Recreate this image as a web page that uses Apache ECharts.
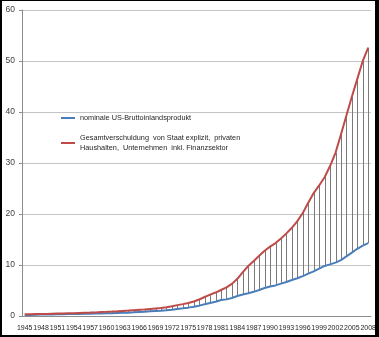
<!DOCTYPE html>
<html>
<head>
<meta charset="utf-8">
<script src="https://cdn.jsdelivr.net/npm/echarts@6/dist/echarts.min.js"></script>
<style>
  html, body { margin: 0; padding: 0; background: #fff; }
  #frame {
    position: relative; width: 379px; height: 337px; box-sizing: border-box;
    border-style: solid; border-color: #000; border-width: 1px 4px 2px 2px;
    overflow: hidden;
  }
  #chart { position: absolute; left: -2px; top: -1px; width: 379px; height: 337px; }
</style>
</head>
<body>
<div id="frame"><div id="chart"></div></div>
<script>
// Jahre 1945 bis 2008
const years = [];
for (let y = 1945; y <= 2008; y++) years.push(String(y));

// Nominales US-BIP (Billionen US-Dollar)
const gdp = [
  0.22, 0.22, 0.24, 0.27, 0.27, 0.29, 0.34, 0.36, 0.38, 0.38,
  0.41, 0.44, 0.46, 0.47, 0.51, 0.53, 0.54, 0.59, 0.62, 0.66,
  0.72, 0.79, 0.83, 0.91, 0.98, 1.04, 1.13, 1.24, 1.38, 1.50,
  1.64, 1.82, 2.03, 2.29, 2.56, 2.79, 3.13, 3.26, 3.54, 3.93,
  4.22, 4.46, 4.74, 5.10, 5.48, 5.80, 6.00, 6.34, 6.66, 7.07,
  7.40, 7.82, 8.30, 8.75, 9.27, 9.82, 10.13, 10.47, 10.96, 11.69,
  12.42, 13.18, 13.81, 14.29
];

// Gesamtverschuldung (Billionen US-Dollar)
const debt = [
  0.35, 0.36, 0.38, 0.39, 0.40, 0.44, 0.47, 0.50, 0.53, 0.56,
  0.61, 0.64, 0.67, 0.71, 0.77, 0.81, 0.86, 0.92, 0.99, 1.06,
  1.14, 1.21, 1.28, 1.38, 1.48, 1.58, 1.73, 1.92, 2.13, 2.33,
  2.55, 2.84, 3.24, 3.72, 4.18, 4.60, 5.10, 5.60, 6.30, 7.30,
  8.60, 9.80, 10.80, 11.80, 12.80, 13.60, 14.30, 15.20, 16.20, 17.30,
  18.60, 20.20, 22.20, 24.10, 25.60, 27.20, 29.40, 32.00, 35.60, 39.30,
  43.00, 46.50, 50.00, 52.60
];

const yTicks = [0, 10, 20, 30, 40, 50, 60];

const nameGdp = 'nominale US-Bruttoinlandsprodukt';
const nameDebt = 'Gesamtverschuldung  von Staat explizit,  privaten\nHaushalten,  Unternehmen  inkl. Finanzsektor';

const font = '"Liberation Sans", Arial, sans-serif';
const chart = echarts.init(document.getElementById('chart'));

chart.setOption({
  animation: false,
  grid: { left: 22, right: 8, top: 10, bottom: 21, containLabel: false },
  legend: {
    orient: 'vertical',
    left: 61, top: 113, padding: 0,
    icon: 'rect', itemWidth: 14, itemHeight: 2, itemGap: 5,
    textStyle: { fontFamily: font, fontSize: 7.3, color: '#262626', lineHeight: 10 },
    data: [
      { name: nameGdp },
      { name: nameDebt, textStyle: { padding: [10, 0, 0, 0] } }
    ]
  },
  xAxis: {
    type: 'category',
    data: years,
    boundaryGap: true,
    axisLine: { lineStyle: { color: '#8c8c8c', width: 1 } },
    axisTick: { show: false },
    axisLabel: {
      interval: 2, margin: 9, fontFamily: font, fontSize: 7, color: '#262626',
      showMinLabel: true, showMaxLabel: true, hideOverlap: false
    },
    splitLine: { show: false }
  },
  yAxis: {
    type: 'value',
    min: yTicks[0], max: yTicks[yTicks.length - 1], interval: 10,
    axisLine: { show: true, lineStyle: { color: '#8c8c8c', width: 1 } },
    axisTick: { show: true, length: 3, lineStyle: { color: '#8c8c8c' } },
    axisLabel: { margin: 7, fontFamily: font, fontSize: 8.5, color: '#404040' },
    splitLine: { lineStyle: { color: '#c4c4c4', width: 1 } }
  },
  series: [
    {
      // Verbindungslinien zwischen BIP und Verschuldung
      type: 'custom',
      silent: true,
      z: 1,
      data: years.map((y, i) => [i, gdp[i], debt[i]]),
      encode: { x: 0, y: [1, 2] },
      renderItem: function (params, api) {
        const lo = api.coord([api.value(0), api.value(1)]);
        const hi = api.coord([api.value(0), api.value(2)]);
        const x = Math.round(lo[0]) + 0.5;
        return {
          type: 'line',
          shape: { x1: x, y1: lo[1], x2: x, y2: hi[1] },
          style: { stroke: '#7a7a7a', lineWidth: 1 }
        };
      }
    },
    {
      name: nameGdp,
      type: 'line',
      data: gdp,
      z: 3,
      symbol: 'none',
      color: '#4a7ebb',
      lineStyle: { color: '#4a7ebb', width: 2 }
    },
    {
      name: nameDebt,
      type: 'line',
      data: debt,
      z: 3,
      symbol: 'none',
      color: '#be4b48',
      lineStyle: { color: '#be4b48', width: 2 }
    }
  ]
});
</script>
</body>
</html>
